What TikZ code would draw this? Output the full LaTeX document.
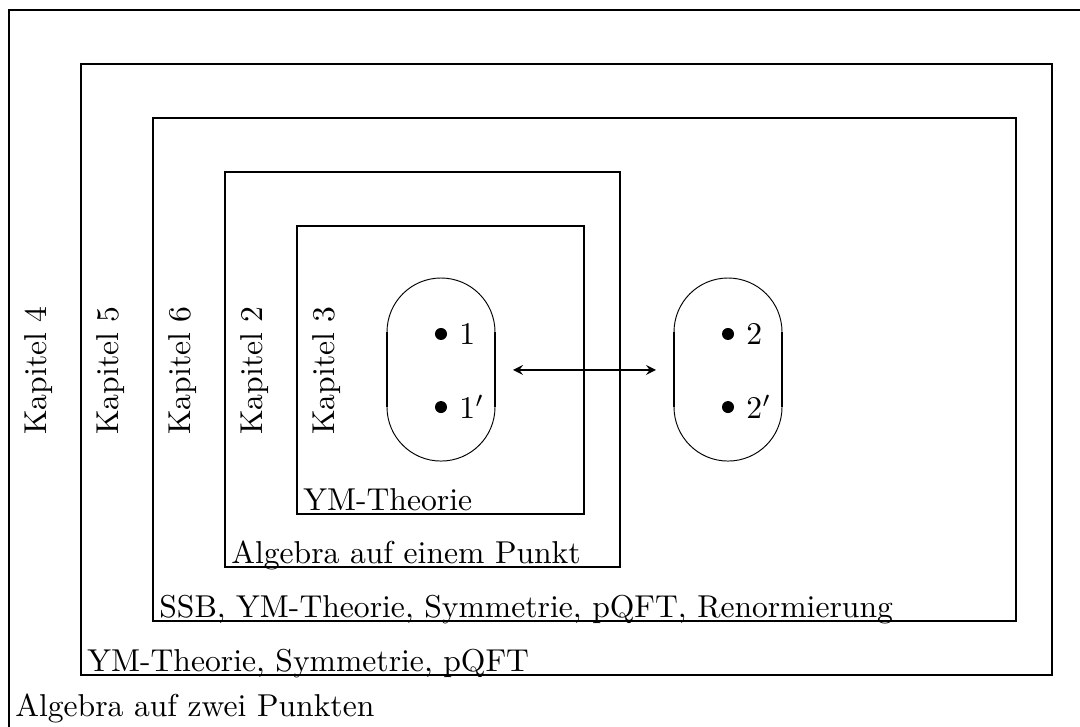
\documentclass[tikz,border=0pt]{standalone}
\usepackage{amsmath,amssymb}
\usepackage{tikz}
\usetikzlibrary{positioning}

\begin{document}
\begin{tikzpicture}[>=stealth, line width=.6pt,
  kapitel/.style={rotate=90},
  inhalt/.style={anchor=base west, inner sep=0pt},
  punkt/.style={circle, fill, inner sep=0pt, minimum size=3.8pt, label={[label distance=0pt]right:$#1$}}]
\useasboundingbox (0,0) rectangle (12,8.067);
\clip (0,0) rectangle (12,8.067);
\draw (.1,-1) rectangle (13,7.956);
\node[kapitel] (k4) at (.43,3.95) {Kapitel 4};
\node[inhalt] (t4) at (.16,.11) {Algebra auf zwei Punkten};
\foreach \k/\l/\b/\r/\t/\txt in {5/.9/.567/11.689/7.356/{YM-Theorie, Symmetrie, pQFT},
  6/1.7/1.167/11.289/6.756/{SSB, YM-Theorie, Symmetrie, pQFT, Renormierung},
  2/2.5/1.767/6.889/6.156/{Algebra auf einem Punkt},
  3/3.3/2.356/6.489/5.556/{YM-Theorie}}
{
  \draw (\l,\b) rectangle (\r,\t);
  \node[kapitel] (k\k) at (\l+.33,3.95) {Kapitel \k};
  \node[inhalt] (t\k) at (\l+.06,\b+.04) {\txt};
}
\foreach \c/\n in {4.9/1, 8.089/2}
{
  \draw[line width=.3pt] (\c-.6,4.378) arc (180:0:.6) (\c+.6,3.544) arc (0:-180:.6);
  \draw[line width=.7pt] (\c-.6,3.544) -- (\c-.6,4.378) (\c+.6,3.544) -- (\c+.6,4.378);
  \node[punkt=\n] (p\n) at (\c,4.356) {};
  \node[punkt=\n'] (q\n) at (\c,3.544) {};
  \coordinate (s\n) at (\c,3.956);
}
\draw[<->, line width=.4pt] ([xshift=.8cm]s1) -- ([xshift=-.8cm]s2);
\end{tikzpicture}
\end{document}
